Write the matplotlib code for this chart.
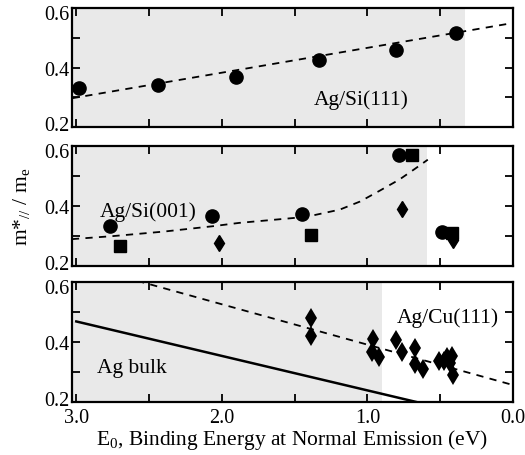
import numpy as np
import matplotlib
matplotlib.use('Agg')
import matplotlib.pyplot as plt
import matplotlib.transforms as mtransforms

plt.rcParams['font.family'] = ['Liberation Serif', 'DejaVu Serif']
plt.rcParams['mathtext.fontset'] = 'custom'
plt.rcParams['mathtext.rm'] = 'Liberation Serif'
plt.rcParams['mathtext.it'] = 'Liberation Serif:italic'

# Ag/Si(111)
si111_E = [2.98, 2.44, 1.90, 1.335, 0.805, 0.39]
si111_m = [0.333, 0.34, 0.37, 0.427, 0.46, 0.517]
si111_fit_E = [3.03, 0.0]
si111_fit_m = [0.297, 0.55]

# Ag/Si(001)
si001_circ_E = [2.77, 2.065, 1.45, 0.78, 0.49]
si001_circ_m = [0.334, 0.366, 0.373, 0.568, 0.313]
si001_sq_E = [2.70, 1.39, 0.69, 0.42]
si001_sq_m = [0.268, 0.303, 0.57, 0.309]
si001_dia_E = [2.02, 0.765, 0.41]
si001_dia_m = [0.277, 0.39, 0.287]
si001_fit_E = [3.03, 2.75, 2.40, 2.06, 1.88, 1.65, 1.42, 1.19, 1.05, 0.915,
               0.78, 0.675, 0.585]
si001_fit_m = [0.29, 0.30, 0.315, 0.333, 0.344, 0.354, 0.364, 0.388, 0.415,
               0.451, 0.488, 0.523, 0.554]

# Ag/Cu(111)
cu_E = [1.385, 1.385, 0.96, 0.965, 0.92, 0.80, 0.76, 0.67, 0.675, 0.617,
        0.507, 0.475, 0.456, 0.42, 0.41, 0.43]
cu_m = [0.479, 0.419, 0.412, 0.366, 0.351, 0.408, 0.366, 0.379, 0.327, 0.312,
        0.338, 0.338, 0.349, 0.354, 0.29, 0.332]
cu_fit_E = [3.03, 0.0]
cu_fit_m = [0.665, 0.257]
bulk_E = [3.0, 0.66]
bulk_m = [0.469, 0.2]

shade_end = [0.33, 0.59, 0.90]
xlim = (3.03, 0.0)
shade = '#e9e9e9'
fs = 15.5
tfs = 14.5


def style(ax):
    ax.set_xlim(*xlim)
    ax.set_ylim(0.2, 0.6)
    ax.set_xticks([3.0, 2.5, 2.0, 1.5, 1.0, 0.5, 0.0])
    ax.set_yticks([0.2, 0.3, 0.4, 0.5, 0.6])
    ax.set_yticklabels(['0.2', '', '0.4', '', '0.6'])
    ax.tick_params(direction='in', length=6, width=1.3, top=True, right=True,
                   labelsize=tfs, pad=2)
    ax.tick_params(axis='x', pad=4)
    for s in ax.spines.values():
        s.set_linewidth(1.6)
    # nudge end labels inward so neighbouring panels don't collide
    labs = ax.get_yticklabels()
    for lab, dy in ((labs[0], 3), (labs[-1], -3)):
        lab.set_transform(lab.get_transform() + mtransforms.ScaledTranslation(
            0, dy / 72, fig.dpi_scale_trans))


fig = plt.figure(figsize=(5.25, 4.56), dpi=100)
ax1 = fig.add_axes([0.137, 0.719, 0.840, 0.261])
ax2 = fig.add_axes([0.137, 0.414, 0.840, 0.264])
ax3 = fig.add_axes([0.137, 0.116, 0.840, 0.263])

dash = dict(color='k', lw=1.3, linestyle=(0, (4, 3.5)))

# top
ax1.axvspan(xlim[0], shade_end[0], color=shade, lw=0, zorder=0)
ax1.plot(si111_fit_E, si111_fit_m, **dash)
ax1.plot(si111_E, si111_m, 'ko', ms=9.5)
ax1.text(1.37, 0.295, 'Ag/Si(111)', fontsize=fs, va='center')
style(ax1)
ax1.set_xticklabels([])

# middle
ax2.axvspan(xlim[0], shade_end[1], color=shade, lw=0, zorder=0)
ax2.plot(si001_fit_E, si001_fit_m, **dash)
ax2.plot(si001_circ_E, si001_circ_m, 'ko', ms=9.5)
ax2.plot(si001_sq_E, si001_sq_m, 'ks', ms=8.5)
ax2.plot(si001_dia_E, si001_dia_m, 'kd', ms=8)
ax2.text(2.84, 0.384, 'Ag/Si(001)', fontsize=fs, va='center')
style(ax2)
ax2.set_xticklabels([])

# bottom
ax3.axvspan(xlim[0], shade_end[2], color=shade, lw=0, zorder=0)
ax3.plot(cu_fit_E, cu_fit_m, **dash)
ax3.plot(bulk_E, bulk_m, 'k-', lw=1.8)
ax3.plot(cu_E, cu_m, 'kd', ms=10, mew=0)
ax3.text(0.80, 0.483, 'Ag/Cu(111)', fontsize=fs, va='center')
ax3.text(2.86, 0.317, 'Ag bulk', fontsize=fs, va='center')
style(ax3)
ax3.set_xticklabels(['3.0', '', '2.0', '', '1.0', '', '0.0'])
ax3.set_xlabel(r'E$_0$, Binding Energy at Normal Emission (eV)', fontsize=fs,
               labelpad=0)

fig.text(0.04, 0.546, r'm*$_{//}$ / m$_{\rm e}$', rotation=90, fontsize=fs,
         ha='center', va='center')

fig.savefig('out.png', dpi=100)
